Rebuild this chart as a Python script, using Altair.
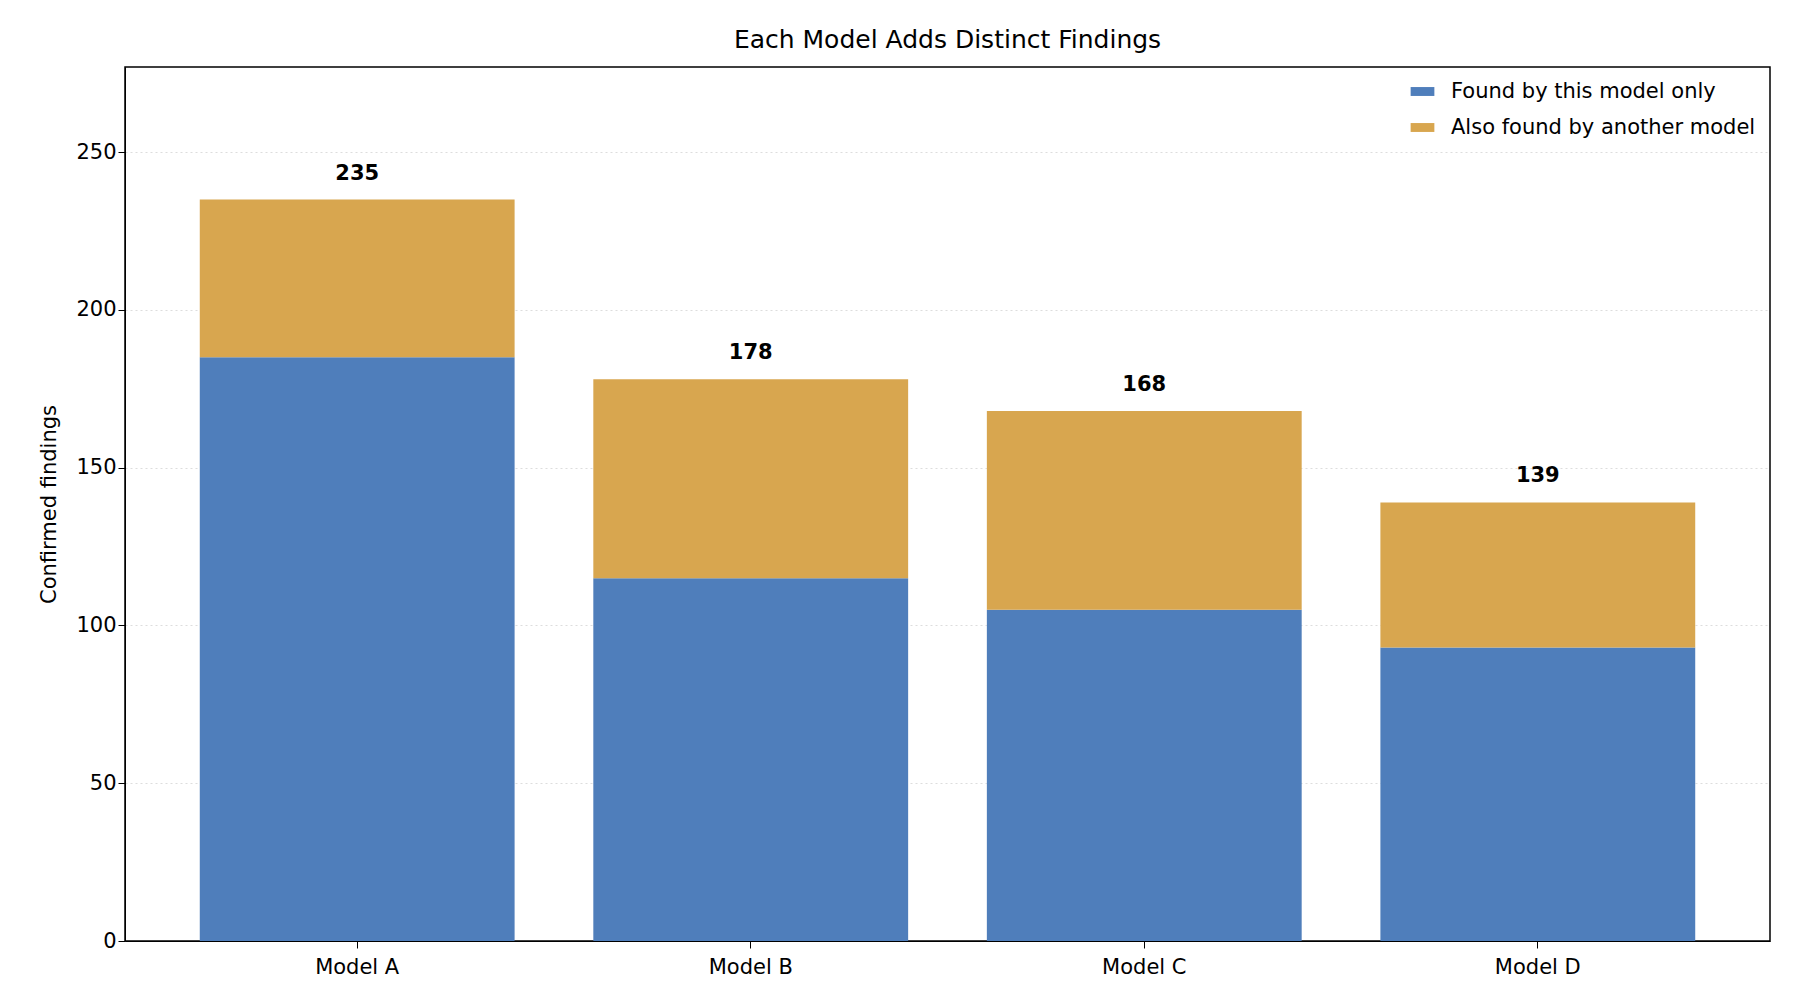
import altair as alt
import pandas as pd

models = ["Model A", "Model B", "Model C", "Model D"]
unique_counts = [185, 115, 105, 93]
shared_counts = [50, 63, 63, 46]
totals = [235, 178, 168, 139]

cat_unique = "Found by this model only"
cat_shared = "Also found by another model"

rows = []
for m, u, s in zip(models, unique_counts, shared_counts):
    rows.append({"model": m, "kind": cat_unique, "count": u, "ord": 0})
    rows.append({"model": m, "kind": cat_shared, "count": s, "ord": 1})
df = pd.DataFrame(rows)
tot = pd.DataFrame({"model": models, "total": totals})

x = alt.X("model:N", title=None, sort=models,
          scale=alt.Scale(paddingInner=0.2, paddingOuter=0.19),
          axis=alt.Axis(labelAngle=0, labelFontSize=21, labelPadding=8, tickSize=7,
                        tickColor="black", domainColor="black", labelColor="black"))

bars = alt.Chart(df).mark_bar().encode(
    x=x,
    y=alt.Y("count:Q", stack="zero", title="Confirmed findings",
            scale=alt.Scale(domain=[0, 277], nice=False),
            axis=alt.Axis(values=[0, 50, 100, 150, 200, 250], labelFontSize=21, titleFontSize=21,
                          titleFontWeight="normal", tickSize=7, tickColor="black", domainColor="black",
                          labelColor="black", titleColor="black", gridDash=[2, 3], gridColor="#dddddd",
                          titlePadding=16)),
    color=alt.Color("kind:N", sort=[cat_unique, cat_shared],
                    scale=alt.Scale(domain=[cat_unique, cat_shared], range=["#4f7ebb", "#d8a64f"]),
                    legend=alt.Legend(title=None, orient="top-right", labelFontSize=21, labelLimit=0,
                                      symbolType="M-1.6,-0.6H1.6V0.6H-1.6Z", symbolSize=220,
                                      symbolStrokeWidth=0, rowPadding=14, labelOffset=18, offset=14)),
    order=alt.Order("ord:Q"),
)

labels = alt.Chart(tot).mark_text(dy=-16, fontSize=21, fontWeight="bold", baseline="bottom",
                                  color="black").encode(
    x=alt.X("model:N", sort=models), y="total:Q", text="total:Q")

chart = (bars + labels).properties(
    width=1645, height=874,
    padding={"left": 30, "top": 20, "right": 5, "bottom": 5},
    title=alt.TitleParams("Each Model Adds Distinct Findings", fontSize=25, fontWeight="normal", offset=14),
).configure(font="DejaVu Sans").configure_view(stroke="black", strokeWidth=1.5)

chart.save("out.html", embed_options={"renderer": "svg", "actions": False})
